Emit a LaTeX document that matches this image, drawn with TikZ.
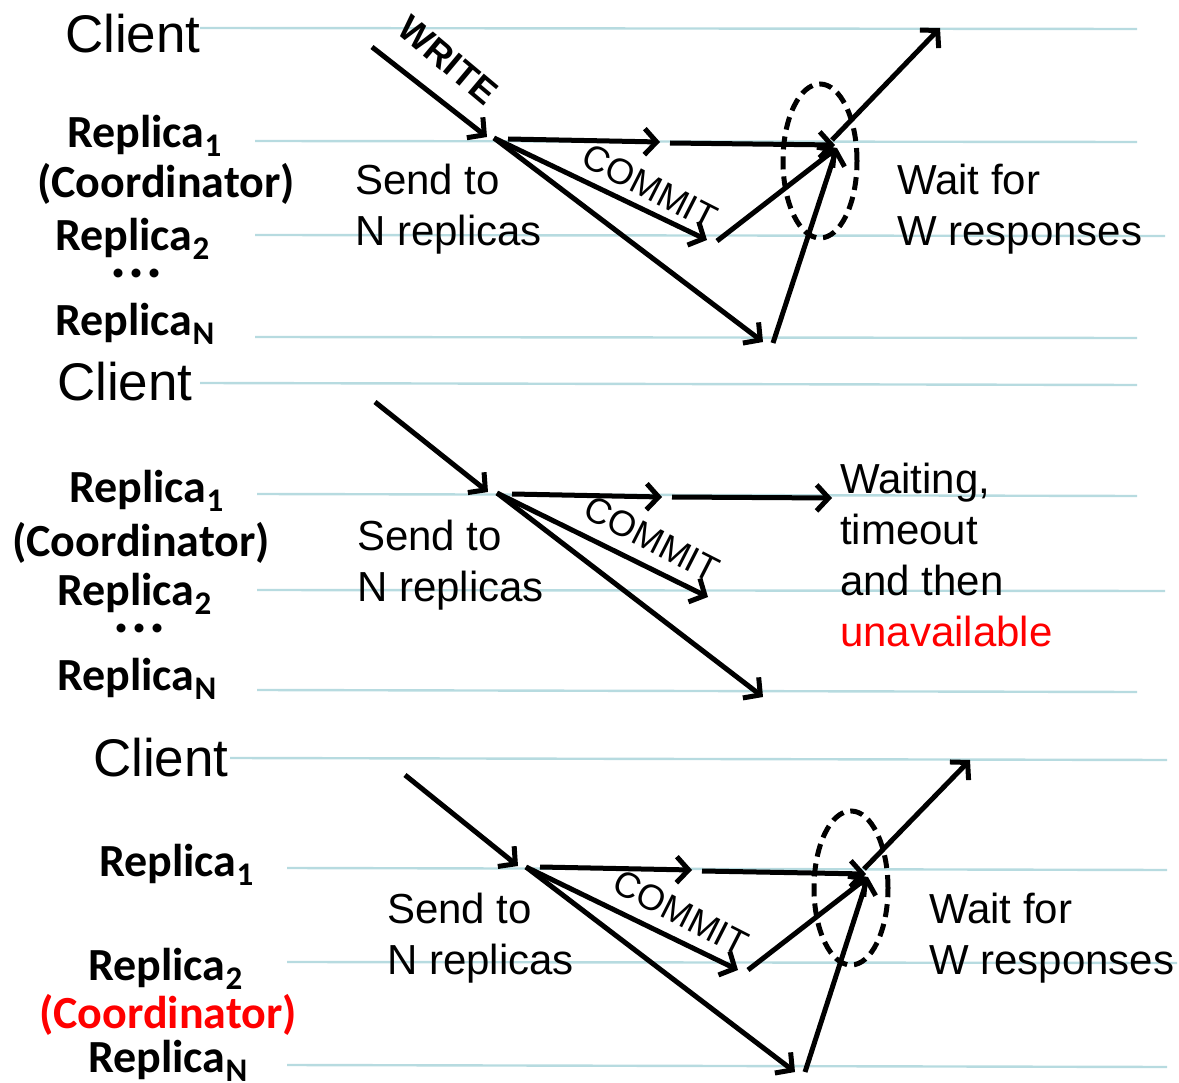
\documentclass[tikz,border=0pt]{standalone}
\usepackage{fontspec}
\setmainfont{Liberation Sans}
\newfontfamily\calibfont{Carlito}
\usetikzlibrary{arrows.meta}
\definecolor{lanecol}{RGB}{183,219,224}
\definecolor{hotred}{RGB}{255,0,0}
\tikzset{
  lane/.style={draw=lanecol, line width=2.4pt},
  msg/.style={line width=5pt, -{Straight Barb[length=12pt,width=26pt]}},
  waitring/.style={line width=5pt, dash pattern=on 13pt off 7pt},
  big/.style={anchor=base west, inner sep=0pt, font=\fontsize{53}{60}\selectfont},
  note/.style={anchor=base west, inner sep=0pt, align=left, font=\fontsize{42}{51}\selectfont},
  rep/.style={anchor=base west, inner sep=0pt, font=\calibfont\bfseries\fontsize{46}{50}\selectfont},
  tag/.style={inner sep=0pt, font=\fontsize{36}{38}\selectfont},
}
\newcommand{\repl}[1]{Replica\raisebox{-9pt}{\fontsize{33}{33}\selectfont #1}}
\newcommand{\vdotsrow}{{\fontsize{60}{60}\selectfont .\kern2pt.\kern2pt.}}
\begin{document}
\begin{tikzpicture}[x=1pt,y=-1pt]
\useasboundingbox (0,0) rectangle (1179,1083);
% lanes
\coordinate (l1a) at (200,28);  \coordinate (l1b) at (1137,29);
\coordinate (l2a) at (255,141); \coordinate (l2b) at (1137,142);
\coordinate (l3a) at (255,235); \coordinate (l3b) at (1165,236);
\coordinate (l4a) at (255,337); \coordinate (l4b) at (1137,338);
\coordinate (l5a) at (200,383); \coordinate (l5b) at (1137,385);
\coordinate (l6a) at (257,494); \coordinate (l6b) at (1137,496);
\coordinate (l7a) at (257,590); \coordinate (l7b) at (1165,591);
\coordinate (l8a) at (257,690); \coordinate (l8b) at (1137,692);
\coordinate (l9a) at (230,758); \coordinate (l9b) at (1167,760);
\coordinate (l10a) at (287,868); \coordinate (l10b) at (1167,870);
\coordinate (l11a) at (287,962); \coordinate (l11b) at (1177,963);
\coordinate (l12a) at (287,1065); \coordinate (l12b) at (1167,1067);
\draw[lane] (l1a) -- (l1b);
\draw[lane] (l2a) -- (l2b);
\draw[lane] (l3a) -- (l3b);
\draw[lane] (l4a) -- (l4b);
\draw[lane] (l5a) -- (l5b);
\draw[lane] (l6a) -- (l6b);
\draw[lane] (l7a) -- (l7b);
\draw[lane] (l8a) -- (l8b);
\draw[lane] (l9a) -- (l9b);
\draw[lane] (l10a) -- (l10b);
\draw[lane] (l11a) -- (l11b);
\draw[lane] (l12a) -- (l12b);

% first panel
\node[big] (p1client) at (65,53) {Client};
\node[rep] (p1rep1) at (67,148) {\repl{1}};
\node[rep] (p1coord) at (37,198) {(Coordinator)};
\node[rep] (p1rep2) at (55,251) {\repl{2}};
\node[rep, anchor=base] (p1dots) at (137,278) {\vdotsrow};
\node[rep] (p1repn) at (55,336) {\repl{N}};
\node[note] (p1send) at (355,246) {Send to\\N replicas};
\node[note] (p1wait) at (897,246) {Wait for\\W responses};
\coordinate (p1w0) at (372,47);
\coordinate (p1w1) at (487,137);
\coordinate (p1hub) at (494,138);
\coordinate (p1s0) at (508,139);
\coordinate (p1s1) at (660,142);
\coordinate (p1s2) at (670,143);
\coordinate (p1s3) at (835,145);
\coordinate (p1r2) at (707,240);
\coordinate (p1r2b) at (717,241);
\coordinate (p1rn) at (763,342);
\coordinate (p1rnb) at (773,343);
\coordinate (p1q) at (837,148);
\coordinate (p1ack) at (832,140);
\coordinate (p1out) at (940,28);
\coordinate (p1ring) at (820,161);
\draw[msg] (p1w0) -- (p1w1);
\node[tag, font=\bfseries\fontsize{36}{36}\selectfont, rotate=-40] (p1write) at (448,60) {WRITE};
\draw[msg] (p1s0) -- (p1s1);
\draw[msg] (p1s2) -- (p1s3);
\draw[msg] (p1hub) -- (p1r2);
\draw[msg] (p1hub) -- (p1rn);
\node[tag, rotate=-27] (p1commit) at (650,187) {COMMIT};
\draw[msg] (p1r2b) -- (p1q);
\draw[msg] (p1rnb) -- (p1q);
\draw[msg] (p1ack) -- (p1out);
\draw[waitring] (p1ring) ellipse [x radius=37pt, y radius=77pt];

% second panel
\node[big] (p2client) at (57,401) {Client};
\node[rep] (p2rep1) at (69,502) {\repl{1}};
\node[rep] (p2coord) at (12,556) {(Coordinator)};
\node[rep] (p2rep2) at (57,605) {\repl{2}};
\node[rep, anchor=base] (p2dots) at (140,632) {\vdotsrow};
\node[rep] (p2repn) at (57,690) {\repl{N}};
\node[note] (p2send) at (357,601) {Send to\\N replicas};
\node[note] (p2wait) at (840,646) {Waiting,\\timeout\\and then\\\textcolor{hotred}{unavailable}};
\coordinate (p2w0) at (375,402);
\coordinate (p2w1) at (488,492);
\coordinate (p2hub) at (497,493);
\coordinate (p2s0) at (512,494);
\coordinate (p2s1) at (662,497);
\coordinate (p2s2) at (672,497);
\coordinate (p2s3) at (832,498);
\coordinate (p2r2) at (708,597);
\coordinate (p2rn) at (763,697);
\draw[msg] (p2w0) -- (p2w1);
\draw[msg] (p2s0) -- (p2s1);
\draw[msg] (p2s2) -- (p2s3);
\draw[msg] (p2hub) -- (p2r2);
\draw[msg] (p2hub) -- (p2rn);
\node[tag, rotate=-27] (p2commit) at (652,539) {COMMIT};

% third panel
\node[big] (p3client) at (93,776) {Client};
\node[rep] (p3rep1) at (99,876) {\repl{1}};
\node[rep] (p3rep2) at (88,980) {\repl{2}};
\node[rep, text=hotred] (p3coord) at (39,1028) {(Coordinator)};
\node[rep] (p3repn) at (88,1072) {\repl{N}};
\node[note] (p3send) at (387,974) {Send to\\N replicas};
\node[note] (p3wait) at (929,974) {Wait for\\W responses};
\coordinate (p3w0) at (405,775);
\coordinate (p3w1) at (518,866);
\coordinate (p3hub) at (526,867);
\coordinate (p3s0) at (540,867);
\coordinate (p3s1) at (692,870);
\coordinate (p3s2) at (702,871);
\coordinate (p3s3) at (866,874);
\coordinate (p3r2) at (738,970);
\coordinate (p3r2b) at (748,970);
\coordinate (p3rn) at (795,1072);
\coordinate (p3rnb) at (805,1072);
\coordinate (p3q) at (868,877);
\coordinate (p3ack) at (864,869);
\coordinate (p3out) at (970,760);
\coordinate (p3ring) at (851,888);
\draw[msg] (p3w0) -- (p3w1);
\draw[msg] (p3s0) -- (p3s1);
\draw[msg] (p3s2) -- (p3s3);
\draw[msg] (p3hub) -- (p3r2);
\draw[msg] (p3hub) -- (p3rn);
\node[tag, rotate=-27] (p3commit) at (681,913) {COMMIT};
\draw[msg] (p3r2b) -- (p3q);
\draw[msg] (p3rnb) -- (p3q);
\draw[msg] (p3ack) -- (p3out);
\draw[waitring] (p3ring) ellipse [x radius=37pt, y radius=77pt];
\end{tikzpicture}
\end{document}
